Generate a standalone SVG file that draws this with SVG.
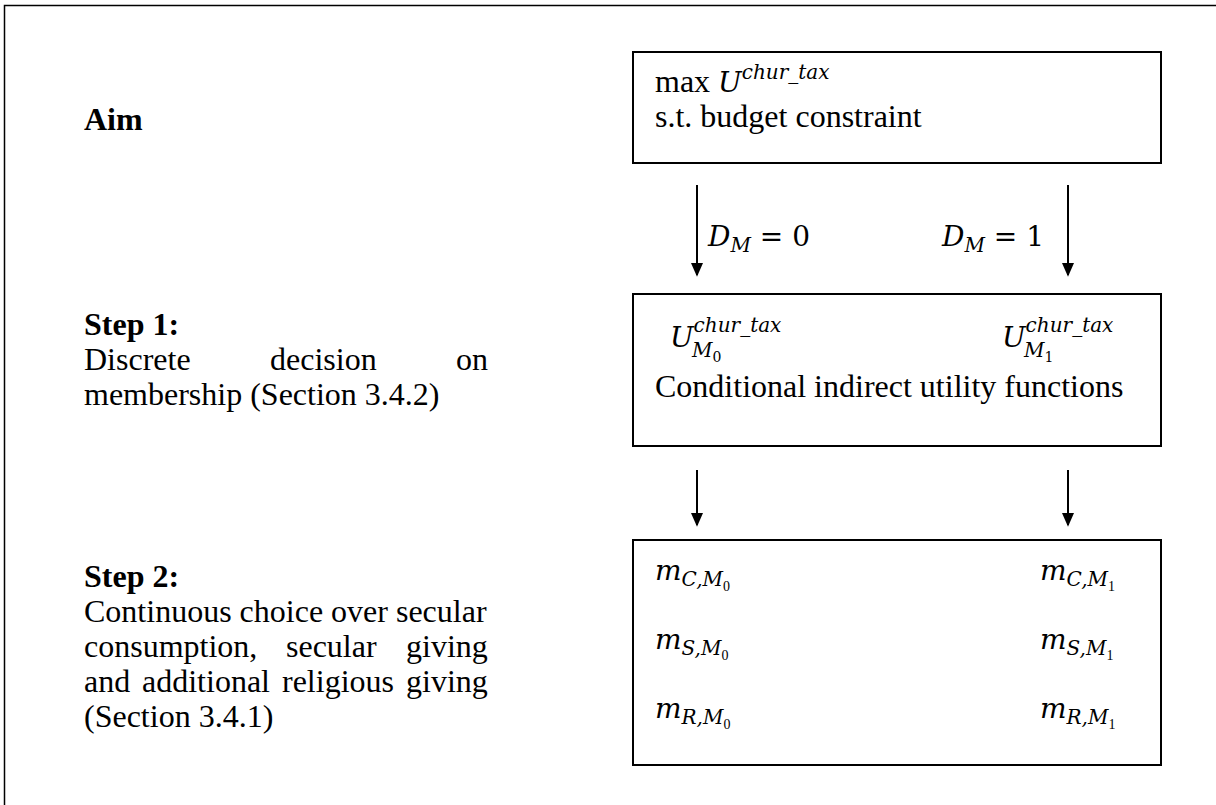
<svg xmlns="http://www.w3.org/2000/svg" width="1216" height="805" viewBox="0 0 1216 805">
<style>
.t{font-family:"Liberation Serif","Times New Roman",serif;font-size:32px;fill:#000}
.b{font-weight:bold}
.m{font-family:"DejaVu Serif","Liberation Serif",serif;font-style:italic;font-size:28px;fill:#000}
.u{font-family:"DejaVu Serif","Liberation Serif",serif;font-style:normal;font-size:28px;fill:#000}
.s{font-size:20px}
.ss{font-size:14px;font-style:normal}
.box{fill:#fff;stroke:#000;stroke-width:2}
.ar{stroke:#000;stroke-width:2;fill:none}
</style>
<defs>
<marker id="ah" markerWidth="14" markerHeight="16" refX="14" refY="7" orient="auto" markerUnits="userSpaceOnUse" viewBox="0 0 16 14">
<path d="M0,0 L16,7 L0,14 z" fill="#000"/>
</marker>
</defs>
<rect width="1216" height="805" fill="#fff"/>
<path d="M4.5,805 V5.5 H1216" fill="none" stroke="#000" stroke-width="1.5"/>

<g id="labels">
<text class="t b" x="84" y="130">Aim</text>
<text class="t b" x="84" y="335">Step 1:</text>
<text class="t" y="370"><tspan x="84">Discrete</tspan><tspan x="270">decision</tspan><tspan x="456">on</tspan></text>
<text class="t" x="84" y="405">membership (Section 3.4.2)</text>
<text class="t b" x="84" y="587">Step 2:</text>
<text class="t" x="84" y="622">Continuous choice over secular</text>
<text class="t" y="657"><tspan x="84">consumption,</tspan><tspan x="286">secular</tspan><tspan x="406">giving</tspan></text>
<text class="t" y="692"><tspan x="84">and</tspan><tspan x="142">additional</tspan><tspan x="282">religious</tspan><tspan x="406">giving</tspan></text>
<text class="t" x="84" y="727">(Section 3.4.1)</text>
</g>

<g id="aim-box">
<rect class="box" x="633" y="52" width="528" height="111"/>
<text x="655" y="92"><tspan class="t">max </tspan><tspan class="m">U</tspan><tspan class="m s" dy="-13">chur_tax</tspan></text>
<text class="t" x="655" y="127">s.t. budget constraint</text>
</g>

<g id="step1-box">
<rect class="box" x="633" y="294" width="528" height="152"/>
<text x="670" y="347"><tspan class="m">U</tspan><tspan class="m s" dy="-15">chur_tax</tspan></text>
<text x="692" y="357" class="m s">M<tspan class="ss" dy="5">0</tspan></text>
<text x="1002" y="347"><tspan class="m">U</tspan><tspan class="m s" dy="-15">chur_tax</tspan></text>
<text x="1024" y="357" class="m s">M<tspan class="ss" dy="5">1</tspan></text>
<text class="t" x="655" y="397">Conditional indirect utility functions</text>
</g>

<g id="step2-box">
<rect class="box" x="633" y="540" width="528" height="225"/>
<text x="655" y="580"><tspan class="m">m</tspan><tspan class="m s" dy="6">C,M</tspan><tspan class="ss" dy="5">0</tspan></text>
<text x="655" y="649"><tspan class="m">m</tspan><tspan class="m s" dy="6">S,M</tspan><tspan class="ss" dy="5">0</tspan></text>
<text x="655" y="718"><tspan class="m">m</tspan><tspan class="m s" dy="6">R,M</tspan><tspan class="ss" dy="5">0</tspan></text>
<text x="1040" y="580"><tspan class="m">m</tspan><tspan class="m s" dy="6">C,M</tspan><tspan class="ss" dy="5">1</tspan></text>
<text x="1040" y="649"><tspan class="m">m</tspan><tspan class="m s" dy="6">S,M</tspan><tspan class="ss" dy="5">1</tspan></text>
<text x="1040" y="718"><tspan class="m">m</tspan><tspan class="m s" dy="6">R,M</tspan><tspan class="ss" dy="5">1</tspan></text>
</g>

<g id="connectors">
<line class="ar" x1="697" y1="185" x2="697" y2="275" marker-end="url(#ah)"/>
<line class="ar" x1="1068" y1="185" x2="1068" y2="275" marker-end="url(#ah)"/>
<line class="ar" x1="697" y1="470" x2="697" y2="525" marker-end="url(#ah)"/>
<line class="ar" x1="1068" y1="470" x2="1068" y2="525" marker-end="url(#ah)"/>
<text x="708" y="246"><tspan class="m">D</tspan><tspan class="m s" dy="6">M</tspan><tspan class="u" dy="-6"> = 0</tspan></text>
<text x="942" y="246"><tspan class="m">D</tspan><tspan class="m s" dy="6">M</tspan><tspan class="u" dy="-6"> = 1</tspan></text>
</g>
</svg>
